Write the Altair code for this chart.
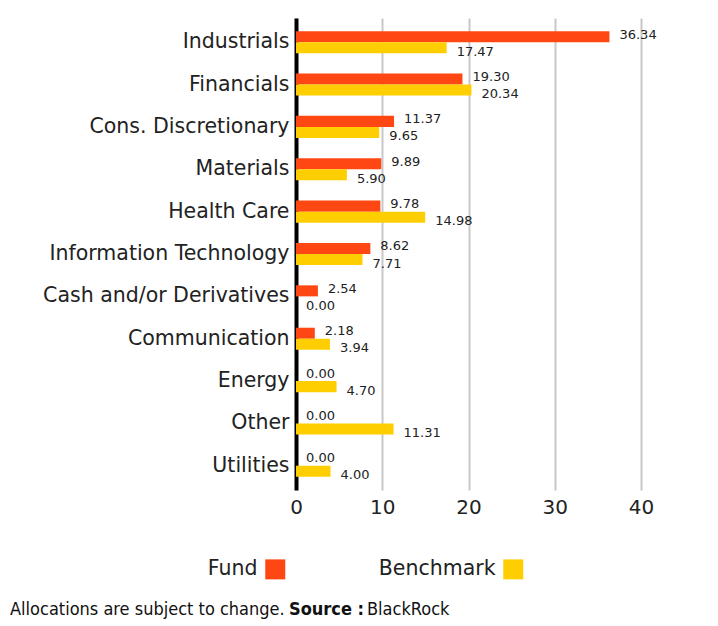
import altair as alt
import pandas as pd

categories = ["Industrials", "Financials", "Cons. Discretionary", "Materials",
              "Health Care", "Information Technology", "Cash and/or Derivatives",
              "Communication", "Energy", "Other", "Utilities"]
fund = [36.34, 19.30, 11.37, 9.89, 9.78, 8.62, 2.54, 2.18, 0.00, 0.00, 0.00]
benchmark = [17.47, 20.34, 9.65, 5.90, 14.98, 7.71, 0.00, 3.94, 4.70, 11.31, 4.00]
series = ["Fund", "Benchmark"]
colors = ["#FF4713", "#FFCE00"]
x_ticks = [0, 10, 20, 30, 40]

rows = []
for c, f, b in zip(categories, fund, benchmark):
    rows.append({"sector": c, "series": "Fund", "value": f, "label": f"{f:.2f}"})
    rows.append({"sector": c, "series": "Benchmark", "value": b, "label": f"{b:.2f}"})
df = pd.DataFrame(rows)

FONT = "DejaVu Sans"

x = alt.X("value:Q", scale=alt.Scale(domain=[0, 40], nice=False),
          axis=alt.Axis(values=x_ticks, title=None, grid=True, gridColor="#c8c8c8",
                        gridWidth=2, domain=False, ticks=False, labelFontSize=20,
                        labelPadding=7, labelColor="#222", labelFont=FONT,
                        labelFlush=False))
y = alt.Y("sector:N", sort=categories,
          scale=alt.Scale(paddingInner=0.48, paddingOuter=0.31),
          axis=alt.Axis(title=None, domain=True, domainColor="#000", domainWidth=4,
                        ticks=False, labelFontSize=20.5, labelPadding=7, labelLimit=320,
                        labelColor="#222", labelFont=FONT, grid=False))
yoff = alt.YOffset("series:N", sort=series)

base = alt.Chart(df)

bars = base.mark_bar().encode(
    x=x, y=y, yOffset=yoff,
    color=alt.Color("series:N", scale=alt.Scale(domain=series, range=colors),
                    legend=alt.Legend(title=None, orient="none", legendX=-31, legendY=541,
                                      direction="horizontal", symbolType="square",
                                      symbolSize=400, symbolStrokeWidth=0,
                                      labelAlign="right", labelOffset={"expr": "-28"},
                                      labelFontSize=20.5, labelFont=FONT,
                                      labelColor="#222", columnPadding=92)),
)

fund_text = base.transform_filter(alt.datum.series == "Fund").mark_text(
    align="left", baseline="middle", dx=10, dy=-2, fontSize=13, font=FONT, color="#222"
).encode(x="value:Q", y=alt.Y("sector:N", sort=categories), yOffset=yoff, text="label:N")

bench_text = base.transform_filter(alt.datum.series == "Benchmark").mark_text(
    align="left", baseline="middle", dx=10, dy=4, fontSize=13, font=FONT, color="#222"
).encode(x="value:Q", y=alt.Y("sector:N", sort=categories), yOffset=yoff, text="label:N")

FOOT_FONT = "DejaVu Sans Condensed"
foot = pd.DataFrame({"t": ["Allocations are subject to change."], "s": ["Source :"], "b": ["BlackRock"]})
f1 = alt.Chart(foot).mark_text(align="left", baseline="middle", fontSize=18, font=FOOT_FONT,
                               color="#111").encode(x=alt.value(-286), y=alt.value(592), text="t:N")
f2 = alt.Chart(foot).mark_text(align="left", baseline="middle", fontSize=18, font=FOOT_FONT,
                               fontWeight="bold", color="#111").encode(x=alt.value(-7), y=alt.value(592), text="s:N")
f3 = alt.Chart(foot).mark_text(align="left", baseline="middle", fontSize=18, font=FOOT_FONT,
                               color="#111").encode(x=alt.value(71), y=alt.value(592), text="b:N")

chart = alt.layer(bars, fund_text, bench_text, f1, f2, f3).properties(
    width=345, height=472,
    autosize=alt.AutoSizeParams(type="none"),
    padding={"left": 288, "top": 10, "right": 60, "bottom": 130},
).configure_view(stroke=None)

chart.save("out.html", embed_options={"renderer": "svg", "actions": False})
